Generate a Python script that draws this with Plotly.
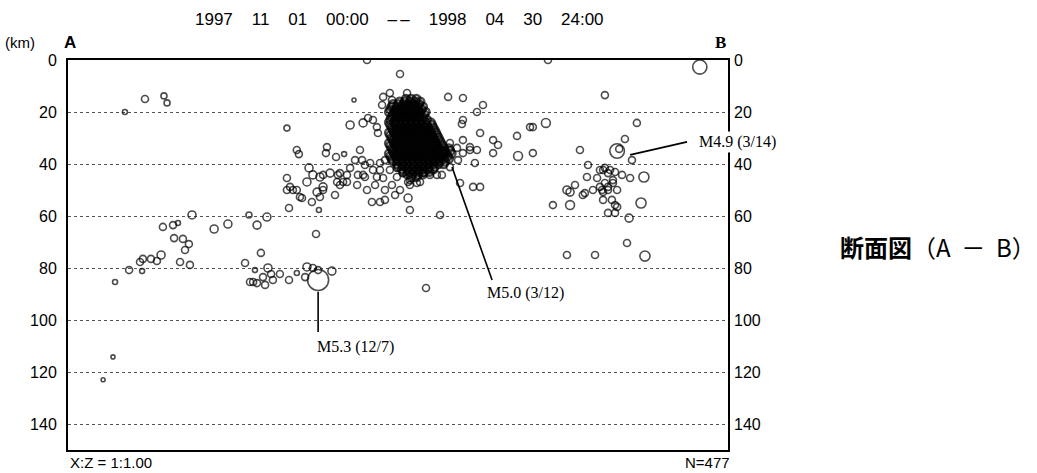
import numpy as np
import plotly.graph_objects as go

# ---------------- data (distance along A-B [km], depth [km], magnitude) ----------------
ev_dist = [
    21.9, 29.6, 36.9, 38.1, 17.3, 13.5, 18.1, 23.5, 28.5, 27.7, 28.8, 31.9, 34.2, 35.8, 43.1, 46.9,
    45.0, 46.5, 44.2, 40.8, 36.5, 40.4, 42.3, 47.7, 56.2, 61.5, 69.6, 72.7, 76.5, 74.2, 68.1, 71.9,
    70.0, 71.2, 72.7, 75.0, 76.9, 78.1, 75.8, 78.8, 81.5, 85.0, 88.0, 91.2, 91.9, 94.2, 96.2, 101.5,
    95.4, 85.0, 96.5,
    84.2, 88.0, 88.8, 99.6, 99.2, 103.1, 92.7, 84.2, 85.4, 88.0, 89.2, 91.9, 94.2, 96.9, 98.1, 100.8,
    95.8, 93.8, 102.7, 103.5, 105.8, 103.8, 98.1, 98.1, 96.9, 90.0, 86.5, 84.2, 106.2, 104.6, 107.3,
    108.5, 113.5, 115.4, 117.3, 118.8, 119.2, 110.0, 116.2, 117.3, 113.5, 118.8, 121.2, 126.5, 128.8,
    130.8, 134.2, 131.5, 141.9, 143.8, 116.9, 120.0, 130.8, 131.5, 143.1, 150.8, 155.8, 158.5, 156.5,
    151.9, 154.6, 157.3, 137.7, 115.0, 127.7, 123.8, 121.2, 124.6, 120.8, 130.4, 146.2, 151.9, 157.3,
    159.6, 151.9, 151.5, 158.5, 163.5, 165.4, 163.5, 172.7, 173.1, 177.7, 123.8, 126.5, 134.2, 136.5,
    139.2, 131.5, 135.4, 146.9, 149.6, 151.9, 154.6, 150.0, 146.9, 104.6, 107.3, 111.5, 114.2, 120.0,
    121.9, 110.4, 112.3, 114.2, 108.5, 111.2, 115.0, 118.1, 121.9, 124.6, 127.7, 125.8, 121.9, 120.0,
    113.1,
    184.6, 243.0, 206.5, 178.8, 183.8, 218.8, 214.2, 196.9, 178.8, 216.9, 200.0, 199.6, 204.6, 206.5,
    207.7, 210.4, 213.1, 216.2, 221.5, 203.5, 195.0, 193.1, 198.8, 201.9, 204.6, 205.8, 207.7, 209.6,
    211.2, 205.8, 209.2, 211.2, 193.1, 186.5, 207.7, 210.4, 215.8, 220.4, 215.0, 191.9, 202.7, 221.9,
    191.9, 198.0, 205.8, 208.5, 209.6, 206.5, 205.4, 207.7, 210.4, 212.0,
]
ev_depth = [
    20.0, 15.0, 13.8, 16.5, 114.2, 123.0, 85.4, 80.8, 81.2, 77.7, 76.5, 76.5, 77.3, 75.0, 77.7, 78.8,
    73.1, 70.8, 68.8, 68.5, 64.2, 63.5, 62.7, 59.6, 65.0, 63.1, 59.6, 63.5, 60.4, 74.2, 78.1, 80.8,
    85.4, 85.4, 85.8, 83.5, 80.0, 82.3, 86.5, 84.6, 82.3, 84.6, 81.9, 83.5, 79.6, 80.0, 80.8, 81.2,
    66.9, 56.9, 57.7,
    26.2, 34.6, 36.2, 33.5, 35.8, 37.3, 41.5, 45.4, 48.8, 50.0, 52.7, 46.9, 44.2, 45.0, 48.8, 43.5,
    50.8, 54.6, 51.9, 46.9, 46.9, 44.2, 44.2, 50.0, 52.7, 53.1, 50.0, 50.0, 36.2, 48.1, 46.9,
    25.0, 24.2, 22.3, 23.1, 25.8, 28.1, 15.4, 39.6, 42.3, 44.2, 45.0, 45.4, 45.0, 43.5,
    46.9, 47.3, 48.1, 44.2, 44.2, 54.6, 54.6, 53.1, 57.7, 59.6, 47.3, 48.8, 48.8, 39.6,
    30.8, 33.5, 34.6, 87.7, 0.0, 5.4, 12.7, 14.2, 15.4, 17.3, 12.7, 14.2, 14.6, 20.0,
    17.3, 23.1, 24.6, 28.1, 30.8, 32.7, 35.8, 29.2, 36.9, 25.8, 42.3, 41.5, 42.3, 43.5,
    44.2, 46.2, 46.9, 31.9, 33.8, 35.8, 34.6, 38.5, 41.2, 43.5, 44.2, 44.2, 45.0, 39.6,
    38.5, 38.5, 34.6, 40.4, 41.5, 48.1, 50.0, 48.1, 50.0, 48.1, 50.0, 51.9, 53.8, 42.3,
    38.5,
    0.0, 2.7, 13.5, 25.8, 24.2, 24.2, 30.4, 34.6, 35.8, 38.5, 40.4, 45.0, 42.3, 41.5,
    43.5, 43.1, 44.2, 45.4, 45.0, 45.4, 48.1, 50.8, 51.2, 50.0, 48.8, 50.8, 48.8, 47.3,
    50.0, 53.8, 53.8, 56.5, 55.8, 55.8, 58.8, 58.8, 60.8, 55.0, 70.4, 75.0, 75.0, 75.4,
    50.0, 51.9, 42.3, 42.3, 46.2, 47.3, 50.0, 50.0, 55.8, 34.2,
]
ev_mag = [
    1.5, 2.5, 2.0, 2.0, 1.0, 1.0, 1.5, 2.5, 1.5, 2.5, 2.5, 2.5, 2.5, 3.0, 2.5, 2.5,
    2.5, 2.5, 2.5, 2.5, 2.5, 2.5, 1.5, 3.0, 3.0, 3.0, 2.0, 3.0, 3.0, 2.5, 2.5, 1.5,
    2.5, 2.5, 2.5, 2.5, 3.0, 2.5, 2.5, 2.5, 2.5, 2.5, 1.5, 2.5, 3.0, 2.5, 2.5, 3.0,
    2.5, 2.5, 1.5,
    2.0, 2.5, 2.5, 2.5, 2.5, 2.5, 3.0, 2.5, 2.5, 2.5, 2.5, 3.0, 3.0, 3.0, 3.0, 3.0,
    3.0, 2.5, 2.5, 2.5, 2.5, 2.5, 2.5, 2.5, 2.5, 2.5, 2.5, 2.5, 1.5, 2.5, 2.5,
    3.0, 3.0, 2.5, 2.5, 2.5, 2.5, 1.0, 2.5, 2.5, 2.5, 2.5, 2.5, 2.5, 2.5,
    2.5, 2.5, 2.5, 2.5, 2.5, 2.5, 2.5, 3.0, 2.5, 2.5, 2.5, 2.5, 2.5, 2.5,
    2.5, 2.5, 2.5, 2.5, 2.5, 2.5, 2.5, 2.5, 2.5, 2.5, 2.5, 2.5, 2.5, 2.5,
    2.5, 2.5, 2.5, 2.5, 2.5, 2.5, 2.5, 2.5, 3.3, 2.5, 2.5, 2.5, 2.5, 2.5,
    2.5, 2.5, 2.5, 2.5, 2.5, 2.5, 2.5, 2.5, 2.5, 2.5, 2.5, 2.5, 2.5, 2.5,
    2.5, 2.5, 2.5, 2.5, 2.5, 2.5, 2.5, 2.5, 2.5, 2.5, 2.5, 2.5, 2.5, 2.5,
    2.5,
    2.5, 4.8, 2.5, 2.5, 3.3, 2.5, 2.5, 2.5, 2.5, 2.5, 2.5, 2.5, 2.5, 2.5,
    2.5, 2.5, 2.5, 2.5, 3.7, 2.5, 2.5, 3.0, 2.5, 2.5, 2.5, 2.5, 2.5, 2.5,
    2.5, 2.5, 2.5, 2.5, 3.3, 2.5, 2.5, 2.5, 3.0, 3.7, 2.5, 2.5, 2.5, 3.7,
    3.0, 2.5, 2.5, 2.5, 2.5, 2.5, 2.5, 2.5, 2.5, 2.5,
]

# dense swarm beneath the central area (depth rows -> distances)
core_rows = {
    15: [130, 132, 134],
    16: [127.5, 129.5, 131.5, 133.5, 135.5],
    17: [125, 127, 129, 131, 133, 135],
    18: [124.5, 126.5, 128.5, 130.5, 132.5, 134.5, 136.5],
    19: [124, 126, 128, 130, 132, 134, 136],
    20: [123.5, 125.5, 127.5, 129.5, 131.5, 133.5, 135.5, 137.5],
    21: [125, 127, 129, 131, 133, 135, 137],
    22: [124.5, 126.5, 128.5, 130.5, 132.5, 134.5, 136.5],
    23: [124, 126, 128, 130, 132, 134, 136, 138],
    24: [123.5, 125.5, 127.5, 129.5, 131.5, 133.5, 135.5, 137.5, 139.5],
    25: [124, 126, 128, 130, 132, 134, 136, 138, 140],
    26: [124.5, 126.5, 128.5, 130.5, 132.5, 134.5, 136.5, 138.5, 140.5],
    27: [125, 127, 129, 131, 133, 135, 137, 139, 141],
    28: [123.5, 125.5, 127.5, 129.5, 131.5, 133.5, 135.5, 137.5, 139.5, 141.5],
    29: [124, 126, 128, 130, 132, 134, 136, 138, 140, 142],
    30: [124.5, 126.5, 128.5, 130.5, 132.5, 134.5, 136.5, 138.5, 140.5, 142.5],
    31: [125, 127, 129, 131, 133, 135, 137, 139, 141, 143],
    32: [123.5, 125.5, 127.5, 129.5, 131.5, 133.5, 135.5, 137.5, 139.5, 141.5, 143.5],
    33: [124, 126, 128, 130, 132, 134, 136, 138, 140, 142, 144],
    34: [124.5, 126.5, 128.5, 130.5, 132.5, 134.5, 136.5, 138.5, 140.5, 142.5, 144.5, 146.5],
    35: [125, 127, 129, 131, 133, 135, 137, 139, 141, 143, 145, 147],
    36: [123.5, 125.5, 127.5, 129.5, 131.5, 133.5, 135.5, 137.5, 139.5, 141.5, 143.5, 145.5, 147.5],
    37: [124, 126, 128, 130, 132, 134, 136, 138, 140, 142, 144, 146],
    38: [124.5, 126.5, 128.5, 130.5, 132.5, 134.5, 136.5, 138.5, 140.5, 142.5, 144.5, 146.5],
    39: [125, 127, 129, 131, 133, 135, 137, 139, 141, 143, 145],
    40: [126.5, 128.5, 130.5, 132.5, 134.5, 136.5, 138.5, 140.5, 142.5, 144.5],
    41: [127, 129, 131, 133, 135, 137, 139, 141],
    42: [128.5, 130.5, 132.5, 134.5, 136.5, 138.5, 140.5],
    43: [129, 131, 133, 135, 137, 139],
    44: [130.5, 132.5, 134.5, 136.5],
    45: [132, 134],
}
core_mag = 3.0

# labelled events: name, distance, depth, magnitude
big_names = ["M5.3(12/7)", "M5.0(3/12)", "M4.9(3/14)"]
big_dist = [96.2, 143.0, 211.2]
big_depth = [84.6, 36.0, 35.0]
big_mag = [5.3, 5.0, 4.9]

depth_ticks = [0, 20, 40, 60, 80, 100, 120, 140]
title_words = ["1997", "11", "01", "00:00", "–\u2009–", "1998", "04", "30", "24:00"]
n_events = 477

# ---------------- figure ----------------
def msize(m):
    return np.interp(np.asarray(m, dtype=float), [1, 2, 3, 4, 5, 5.5], [4, 6, 8, 11, 15, 25])

core_x, core_y = [], []
for d, xs in core_rows.items():
    for x in xs:
        core_x.append(x)
        core_y.append(d)

XMAX = 660 / 2.6  # X:Z = 1:1
fig = go.Figure()
mk = dict(symbol="circle-open", color="black")
fig.add_trace(go.Scatter(x=core_x, y=core_y, mode="markers",
                         marker=dict(mk, size=msize([core_mag] * len(core_x)), line=dict(width=2.4)),
                         showlegend=False, hoverinfo="skip"))
fig.add_trace(go.Scatter(x=ev_dist, y=ev_depth, mode="markers",
                         marker=dict(mk, size=msize(ev_mag), line=dict(width=1.6)), showlegend=False))
fig.add_trace(go.Scatter(x=big_dist, y=big_depth, mode="markers",
                         marker=dict(mk, size=msize(big_mag), line=dict(width=1.6)), showlegend=False))
# invisible trace for right-hand depth axis
fig.add_trace(go.Scatter(x=[0], y=[0], yaxis="y2", mode="markers",
                         marker=dict(opacity=0), showlegend=False, hoverinfo="skip"))

tickfont = dict(family="Liberation Sans", size=16, color="black")
fig.update_layout(
    width=1037, height=473,
    margin=dict(l=68, r=309, t=60, b=23),
    paper_bgcolor="white", plot_bgcolor="white",
    xaxis=dict(range=[0, XMAX], showgrid=False, zeroline=False, showticklabels=False,
               ticks="", showline=True, mirror=True, linecolor="black", linewidth=2),
    yaxis=dict(range=[150, 0], tickvals=depth_ticks, showgrid=True, gridcolor="#555",
               griddash="dot", gridwidth=1, zeroline=False, showline=True, mirror=True,
               linecolor="black", linewidth=2, ticks="", tickfont=tickfont,
               ticklabelstandoff=6),
    yaxis2=dict(range=[150, 0], tickvals=depth_ticks, overlaying="y", side="right",
                showgrid=False, zeroline=False, showline=False, ticks="",
                tickfont=tickfont, ticklabelstandoff=5),
)

# leader lines for labelled events (from event toward label)
r53 = msize(5.3) / 2 / 2.6
lines = [
    (big_dist[0], big_depth[0] + r53 + 0.5, big_dist[0], 104.6),
    (147.7, 41.2, 163.1, 84.6),
    (216.2, 36.5, 238.1, 31.5),
]
for x0, y0, x1, y1 in lines:
    fig.add_shape(type="line", xref="x", yref="y", x0=x0, y0=y0, x1=x1, y1=y1,
                  line=dict(color="black", width=1.6))

serif = dict(family="Liberation Serif", size=16, color="black")
lab_pos = [(95.0, 110.4), (160.4, 89.6), (241.9, 31.5)]
for name, (lx, ly) in zip(big_names, lab_pos):
    txt = name.replace("(", " (")
    fig.add_annotation(x=lx, y=ly, xref="x", yref="y", text=txt, showarrow=False,
                       xanchor="left", yanchor="middle", font=serif,
                       bgcolor="white" if name.startswith("M4.9") else None, borderpad=1)

sans = dict(family="Liberation Sans", size=15, color="black")
fig.add_annotation(x=0.503, y=1.1026, xref="paper", yref="paper",
                   text=("\u00a0" * 4).join(title_words), showarrow=False,
                   xanchor="center", yanchor="middle",
                   font=dict(family="Liberation Sans", size=17, color="black"))
fig.add_annotation(x=-0.0985, y=1.0436, xref="paper", yref="paper", text="(km)",
                   showarrow=False, xanchor="left", yanchor="middle", font=sans)
fig.add_annotation(x=0.003, y=1.0436, xref="paper", yref="paper", text="<b>A</b>",
                   showarrow=False, xanchor="center", yanchor="middle",
                   font=dict(family="Liberation Sans", size=17, color="black"))
fig.add_annotation(x=0.988, y=1.0436, xref="paper", yref="paper", text="<b>B</b>",
                   showarrow=False, xanchor="center", yanchor="middle",
                   font=dict(family="Liberation Serif", size=17, color="black"))
fig.add_annotation(x=0.0, y=-0.0308, xref="paper", yref="paper", text="X:Z = 1:1.00",
                   showarrow=False, xanchor="left", yanchor="middle", font=sans)
fig.add_annotation(x=1.006, y=-0.0308, xref="paper", yref="paper", text=f"N={n_events}",
                   showarrow=False, xanchor="right", yanchor="middle", font=sans)
fig.add_annotation(x=1.1667, y=0.523, xref="paper", yref="paper",
                   text="<b>断面図</b>（A\u00a0\u00a0－\u00a0\u00a0B）",
                   showarrow=False, xanchor="left", yanchor="middle",
                   font=dict(family="Noto Sans CJK JP", size=24, color="black"))

fig.write_html("out.html", config={"displayModeBar": False},
               post_script="document.body.style.margin='0px';")
